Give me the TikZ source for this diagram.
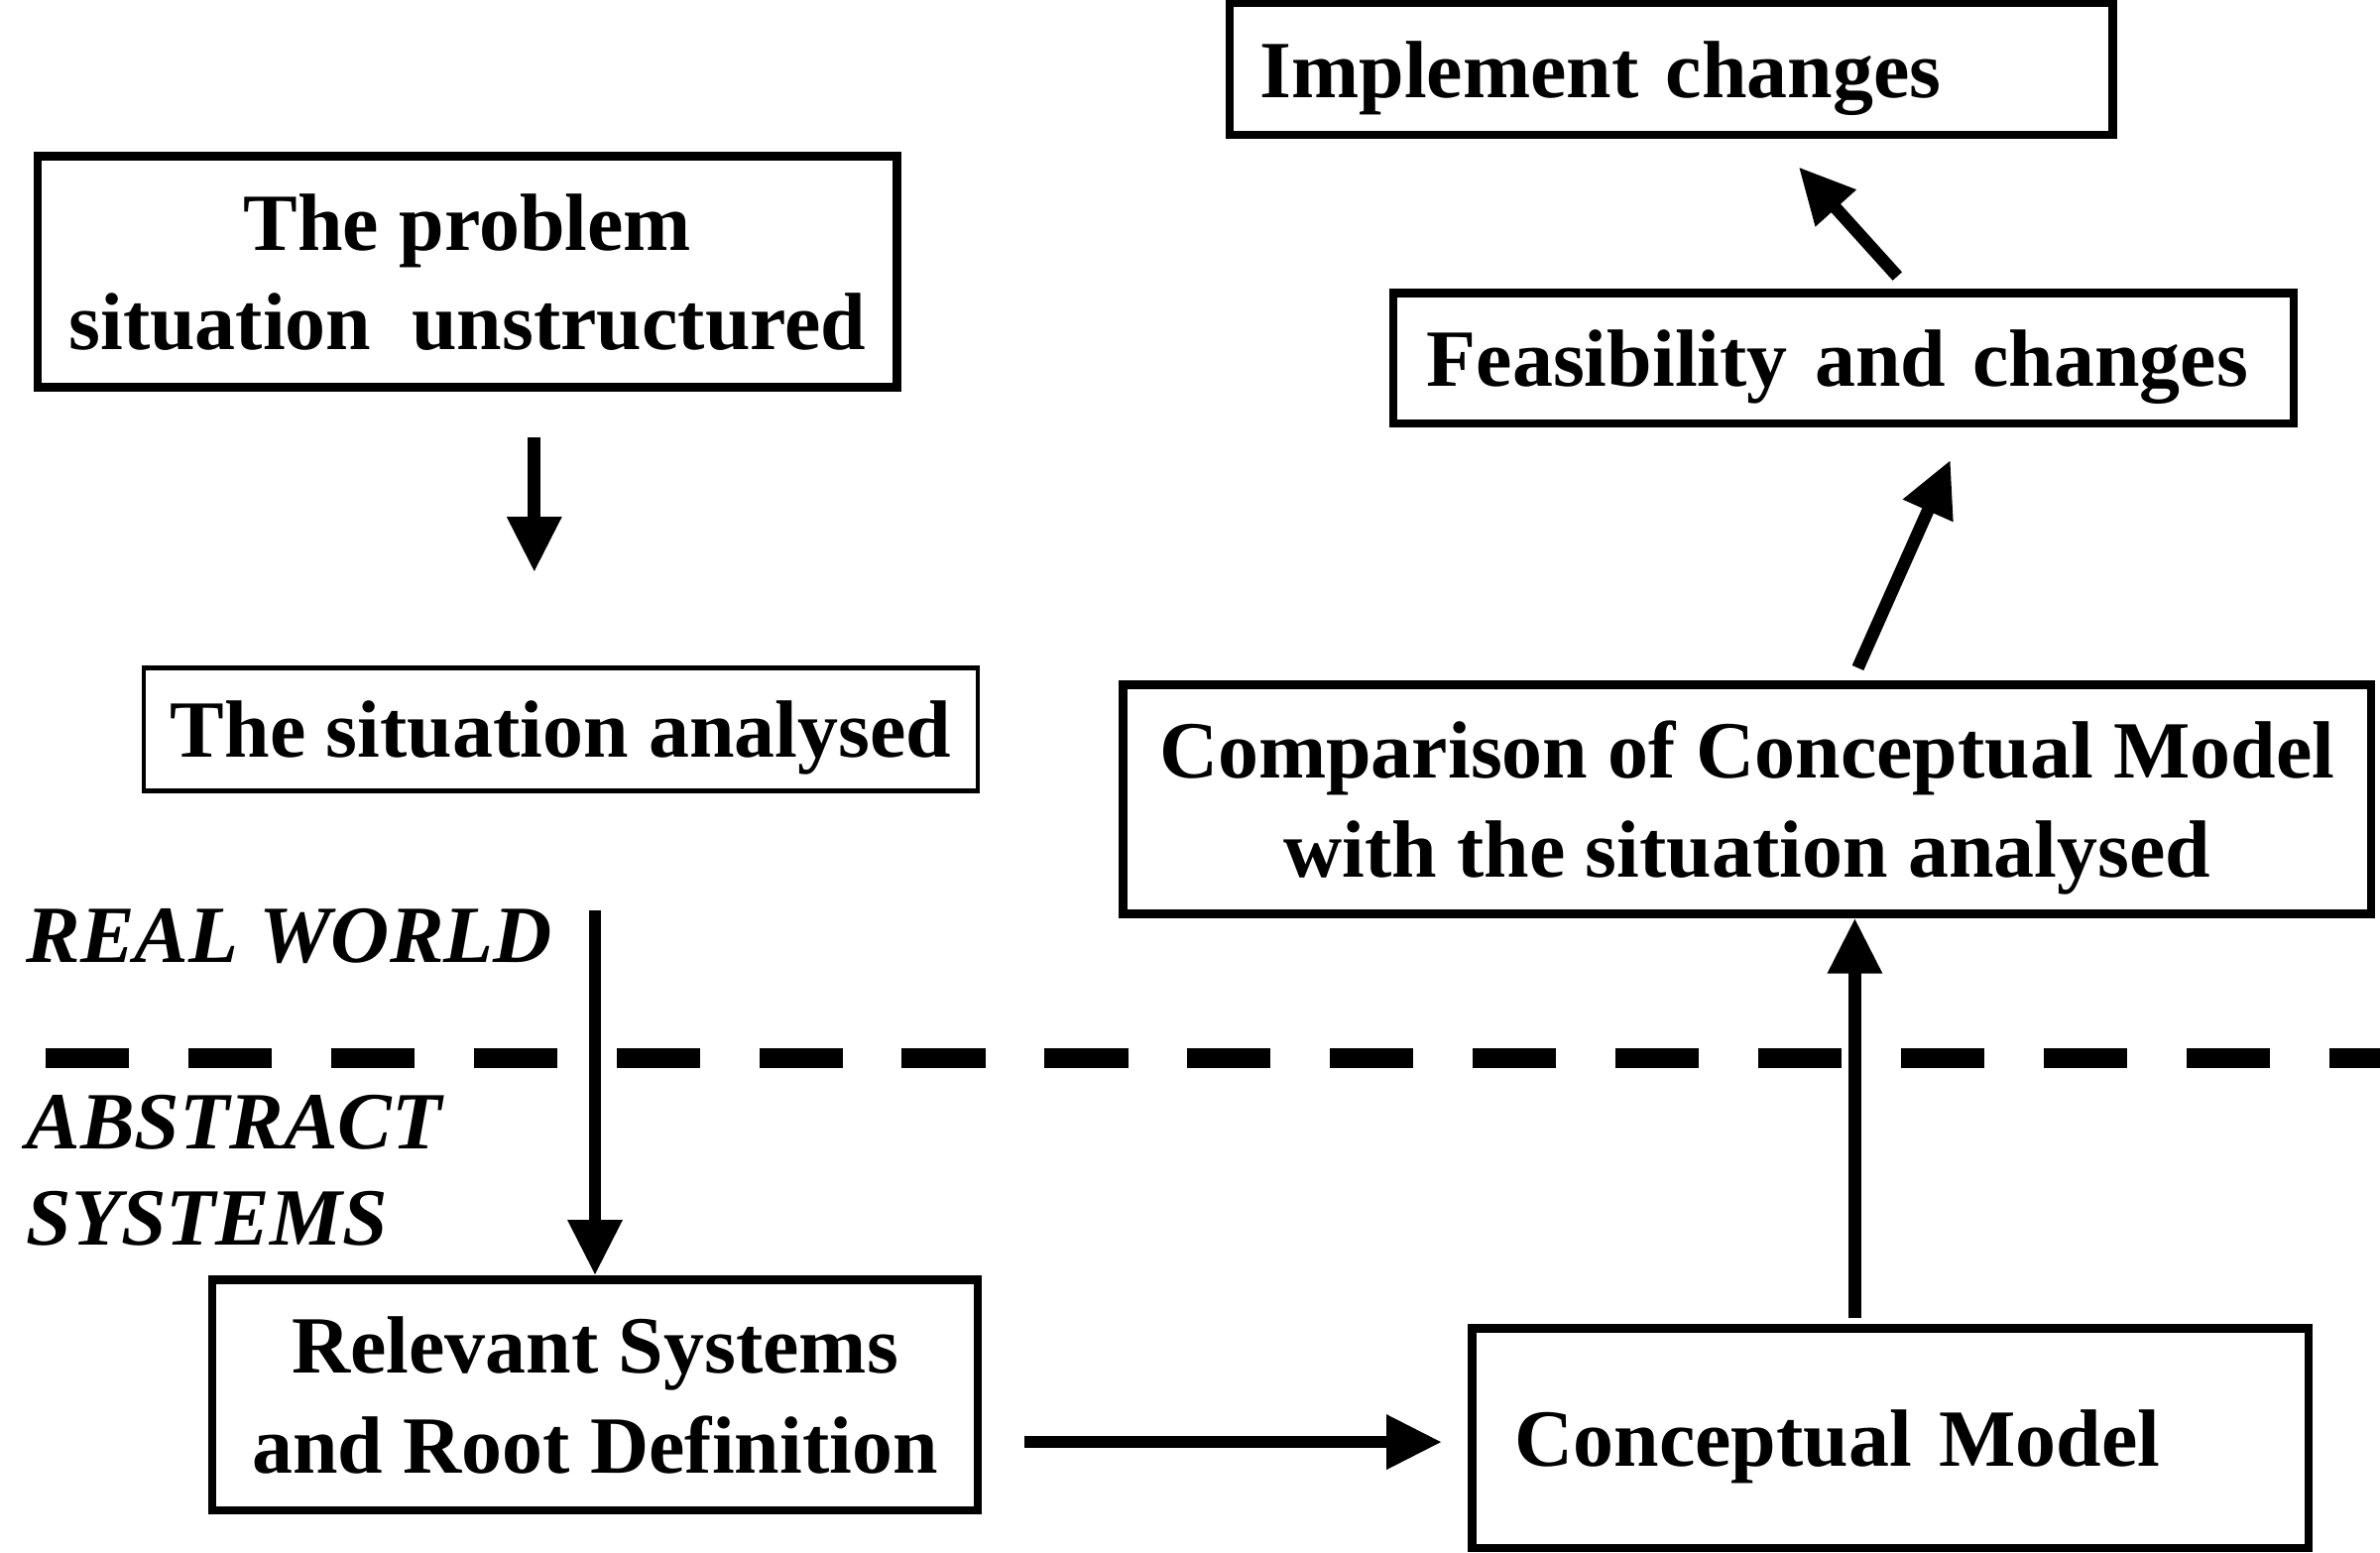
\documentclass[tikz,border=0pt]{standalone}
\usepackage{fontspec}
\setmainfont{Liberation Serif}
\usetikzlibrary{arrows.meta}
\tikzset{
  txt/.style={font=\bfseries\fontsize{23.3}{28.5}\selectfont, inner sep=0pt},
  box/.style={txt, draw, line width=2.4pt, align=center, text depth=0pt},
  thinbox/.style={txt, draw, line width=1.2pt, align=center, text depth=0pt},
  arr/.style={line width=3.6pt, -{Triangle[length=0.56cm,width=0.52cm]}},
  divider/.style={line width=0.2cm, dash pattern=on 0.842cm off 0.597cm},
}
\begin{document}
\begin{tikzpicture}[x=0.015306cm, y=-0.015306cm]
\useasboundingbox (0,0) rectangle (1568,1023);
% boxes
\node[box, minimum width=8.908cm, minimum height=1.332cm, text width=8.296cm, inner xsep=0.306cm, align=left] (imp) at (1101,45.5) {Implement changes};
\node[box, minimum width=8.663cm, minimum height=2.327cm] (prob) at (308,179) {The problem\\situation\ \ unstructured};
\node[thinbox, minimum width=8.403cm, minimum height=1.240cm] (sa) at (369.5,480.5) {The situation analysed};
\node[box, minimum width=7.714cm, minimum height=2.327cm] (rs) at (392,919) {Relevant Systems\\and Root Definition};
\node[box, minimum width=8.434cm, minimum height=2.219cm, text width=7.576cm, inner xsep=0.429cm, align=left] (cm) at (1245.5,947.5) {Conceptual Model};
\node[box, minimum width=12.582cm, minimum height=2.311cm] (cmp) at (1151,526.5) {Comparison of Conceptual Model\\with the situation analysed};
\node[box, minimum width=9.076cm, minimum height=1.316cm, text width=8.403cm, inner xsep=0.337cm, align=left] (fea) at (1214.5,236) {Feasibility and changes};
% labels
\node[txt, anchor=west, font=\bfseries\itshape\fontsize{23.3}{28}\selectfont] (rw) at (17,617) {REAL WORLD};
\node[txt, anchor=west, align=left, font=\bfseries\itshape\fontsize{23.3}{27.5}\selectfont] (as) at (17,771) {ABSTRACT\\SYSTEMS};
% divider
\coordinate (dl) at (30,697);
\coordinate (dr) at (1568,697);
\draw[divider] (dl) -- (dr);
% arrow end points
\coordinate (a1s) at (352,288);
\coordinate (a1e) at (352,377);
\coordinate (a2s) at (392,600);
\coordinate (a3s) at (675,950);
\coordinate (a3e) at (950,950);
\coordinate (a4s) at (1222,868);
\coordinate (a5s) at (1224,440);
\coordinate (a5e) at (1285,303);
\coordinate (a6s) at (1250,182);
\coordinate (a6e) at (1185,110);
% arrows
\draw[arr] (a1s) -- (a1e);
\draw[arr] (a2s) -- (rs.north);
\draw[arr] (a3s) -- (a3e);
\draw[arr] (a4s) -- (cmp.south -| a4s);
\draw[arr] (a5s) -- (a5e);
\draw[arr] (a6s) -- (a6e);
\end{tikzpicture}
\end{document}
